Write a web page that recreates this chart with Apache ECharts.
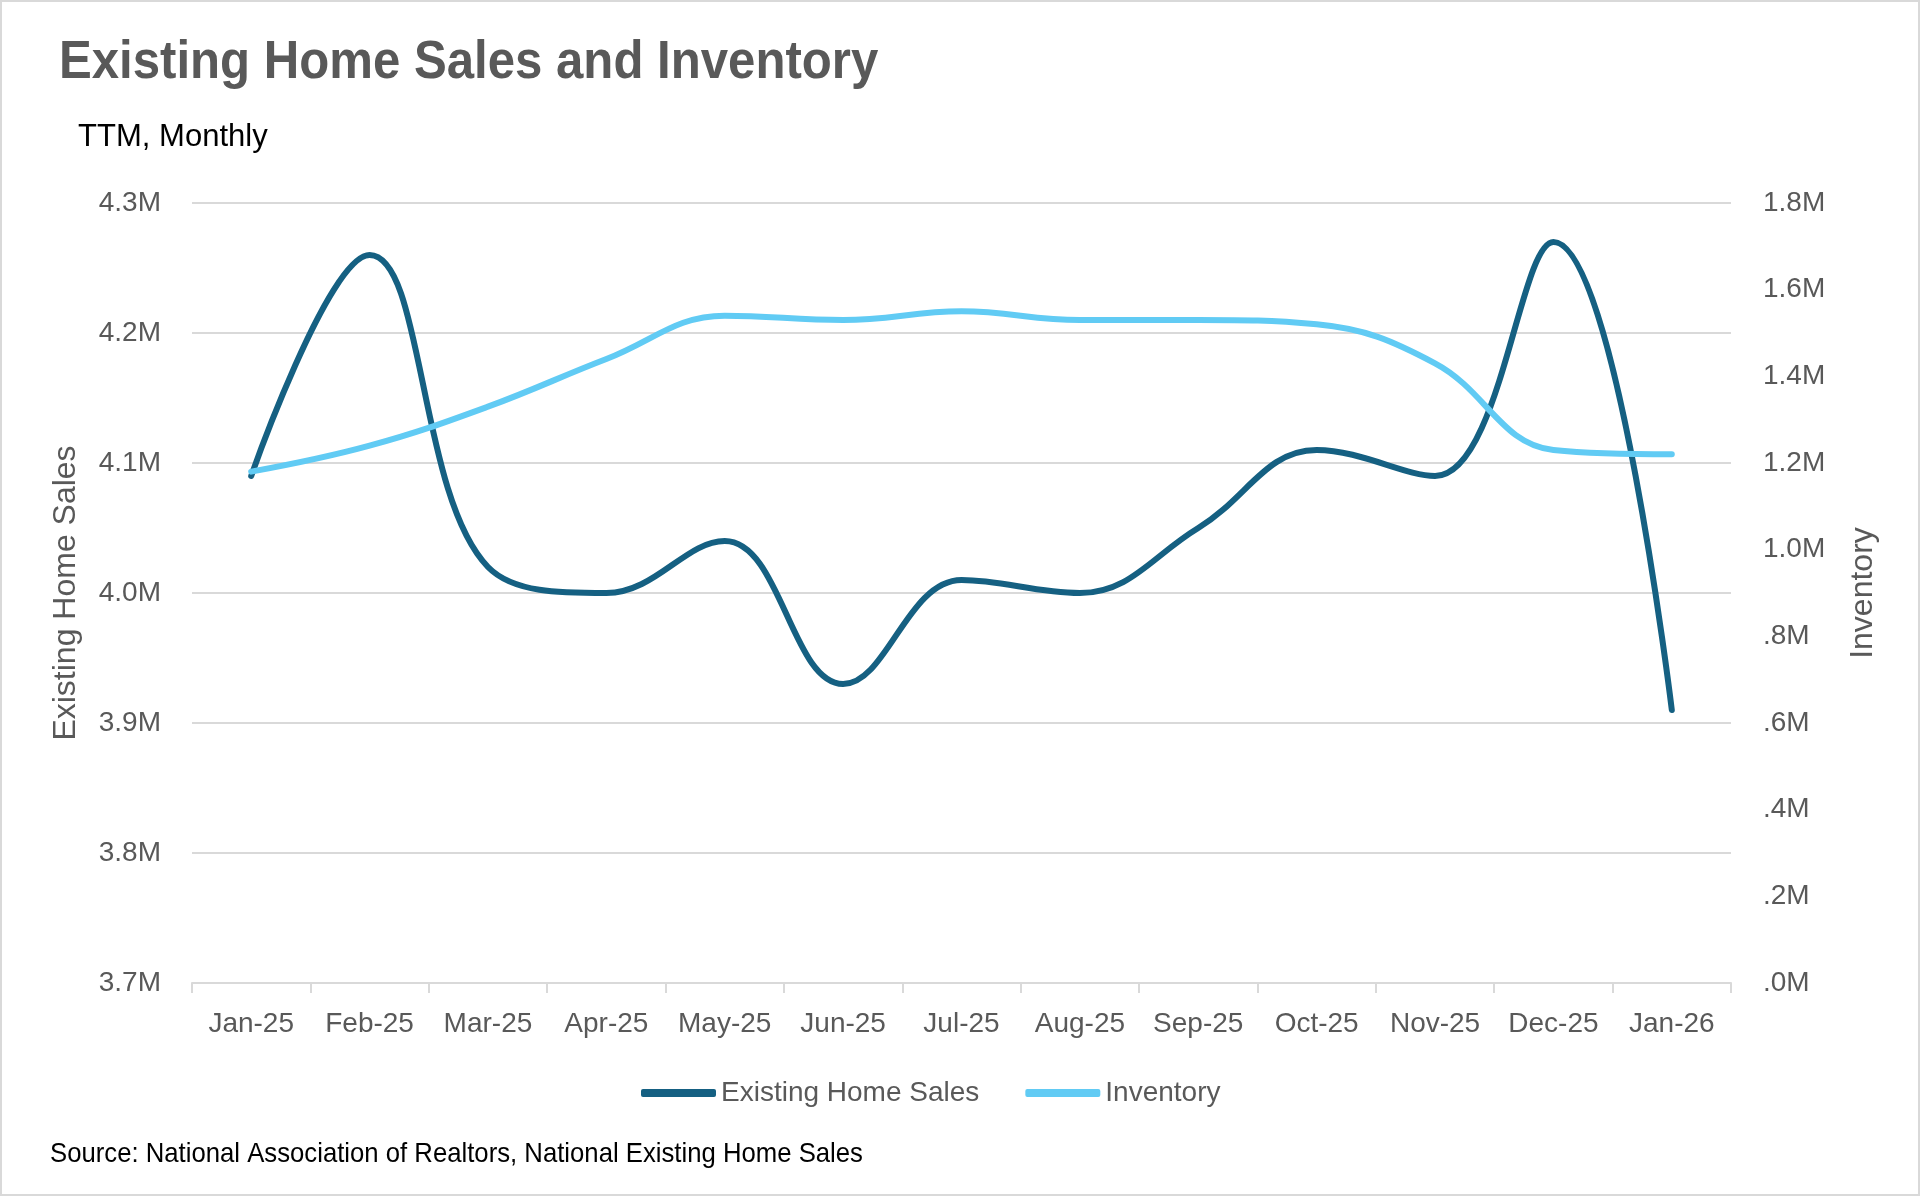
<!DOCTYPE html>
<html>
<head>
<meta charset="utf-8">
<style>
  html, body { margin: 0; padding: 0; background: #ffffff; }
  #chart { width: 1920px; height: 1196px; }
</style>
<script src="https://cdn.jsdelivr.net/npm/echarts@6/dist/echarts.min.js"></script>
</head>
<body>
<div id="chart"></div>
<script>
// ---- data (values in millions) ----
const categories = ['Jan-25','Feb-25','Mar-25','Apr-25','May-25','Jun-25','Jul-25','Aug-25','Sep-25','Oct-25','Nov-25','Dec-25','Jan-26'];
const existingHomeSales = [4.09, 4.26, 4.02, 4.00, 4.04, 3.93, 4.01, 4.00, 4.05, 4.11, 4.09, 4.27, 3.91];
const inventory = [1.18, 1.24, 1.33, 1.44, 1.54, 1.53, 1.55, 1.53, 1.53, 1.52, 1.43, 1.23, 1.22];
const titleText = 'Existing Home Sales and Inventory';
const subtitleText = 'TTM, Monthly';
const sourceText = 'Source: National Association of Realtors, National Existing Home Sales';

const FONT = "'Liberation Sans', Arial, sans-serif";
const GREY = '#595959';

const chart = echarts.init(document.getElementById('chart'), null, { renderer: 'canvas' });

chart.setOption({
  animation: false,
  backgroundColor: '#ffffff',
  textStyle: { fontFamily: FONT },
  grid: { left: 192, right: 189, top: 203, bottom: 213 },
  legend: {
    data: ['Existing Home Sales', 'Inventory'],
    left: 641,
    top: 1079,
    padding: 0,
    itemWidth: 75,
    itemHeight: 8,
    itemGap: 46,
    icon: 'roundRect',
    textStyle: { fontSize: 28, color: GREY, fontFamily: FONT }
  },
  xAxis: {
    type: 'category',
    data: categories,
    boundaryGap: true,
    axisLine: { show: true, lineStyle: { color: '#d9d9d9', width: 2 } },
    axisTick: { show: true, length: 10, lineStyle: { color: '#d9d9d9', width: 2 } },
    axisLabel: { color: GREY, fontSize: 28, margin: 27, fontFamily: FONT, interval: 0 },
    splitLine: { show: false }
  },
  yAxis: [
    {
      type: 'value',
      min: 3.7, max: 4.3, interval: 0.1,
      name: 'Existing Home Sales',
      nameLocation: 'middle',
      nameRotate: 90,
      nameGap: 110,
      nameTextStyle: { fontSize: 32, color: GREY, fontFamily: FONT },
      axisLine: { show: false },
      axisTick: { show: false },
      axisLabel: {
        color: GREY, fontSize: 28, margin: 31, fontFamily: FONT,
        formatter: v => v.toFixed(1) + 'M'
      },
      splitLine: { show: true, lineStyle: { color: '#d9d9d9', width: 2 } }
    },
    {
      type: 'value',
      min: 0, max: 1.8, interval: 0.2,
      position: 'right',
      name: 'Inventory',
      nameLocation: 'middle',
      nameRotate: 90,
      nameGap: 116,
      nameTextStyle: { fontSize: 32, color: GREY, fontFamily: FONT },
      axisLine: { show: false },
      axisTick: { show: false },
      axisLabel: {
        color: GREY, fontSize: 28, margin: 32, fontFamily: FONT,
        formatter: v => v.toFixed(1).replace(/^0/, '') + 'M'
      },
      splitLine: { show: false }
    }
  ],
  series: [
    {
      name: 'Existing Home Sales',
      type: 'line',
      yAxisIndex: 0,
      data: existingHomeSales,
      smooth: 0.4,
      showSymbol: false,
      symbol: 'none',
      color: '#156082',
      lineStyle: { color: '#156082', width: 6, cap: 'round', join: 'round' },
      itemStyle: { color: '#156082' }
    },
    {
      name: 'Inventory',
      type: 'line',
      yAxisIndex: 1,
      data: inventory,
      smooth: 0.4,
      showSymbol: false,
      symbol: 'none',
      color: '#61CBF4',
      lineStyle: { color: '#61CBF4', width: 6, cap: 'round', join: 'round' },
      itemStyle: { color: '#61CBF4' }
    }
  ],
  graphic: [
    {
      type: 'rect',
      shape: { x: 1, y: 1, width: 1918, height: 1194 },
      style: { fill: 'none', stroke: '#d9d9d9', lineWidth: 2 },
      silent: true
    },
    {
      type: 'text',
      x: 59, y: 63, scaleX: 0.91,
      style: { text: titleText, fontSize: 54, fontWeight: 'bold', fill: GREY, fontFamily: FONT, verticalAlign: 'middle', align: 'left' }
    },
    {
      type: 'text',
      x: 78, y: 137, scaleX: 0.97,
      style: { text: subtitleText, fontSize: 32, fill: '#000000', fontFamily: FONT, verticalAlign: 'middle', align: 'left' }
    },
    {
      type: 'text',
      x: 50, y: 1154, scaleX: 0.918,
      style: { text: sourceText, fontSize: 28, fill: '#000000', fontFamily: FONT, verticalAlign: 'middle', align: 'left' }
    }
  ]
});
</script>
</body>
</html>
